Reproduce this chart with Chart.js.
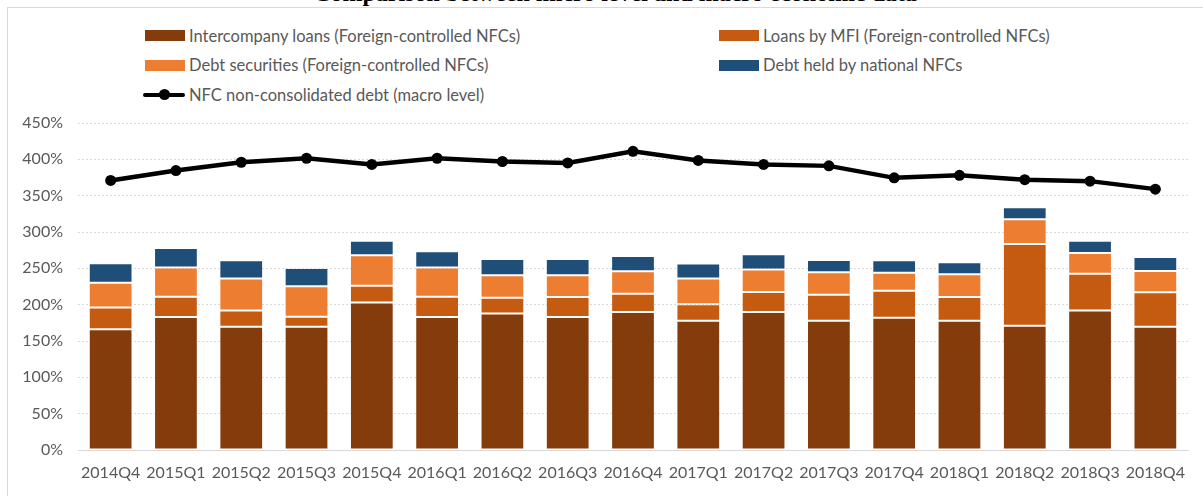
<!DOCTYPE html>
<html>
<head>
<meta charset="utf-8">
<script src="https://cdn.jsdelivr.net/npm/chart.js@4.4.1/dist/chart.umd.min.js"></script>
<style>
  html, body { margin: 0; padding: 0; background: #fff; }
  body { width: 1203px; height: 496px; position: relative; overflow: hidden; font-family: Lato, sans-serif; }
  #title { position: absolute; top: -18px; left: 0; width: 1230px; text-align: center;
           font: bold 24px "Liberation Serif", serif; line-height: 22px; color: #000; white-space: nowrap; }
  #frame { position: absolute; left: 7px; top: 7px; width: 1300px; height: 600px; border: 1px solid #d9d9d9; background: #fff; }
  #legend { position: absolute; left: 143px; top: 21px; display: grid; grid-template-columns: 574px auto;
            grid-auto-rows: 29.5px; font-size: 16.5px; color: #595959; }
  .item { display: flex; align-items: center; white-space: nowrap; }
  .box { width: 40px; height: 11px; margin-left: 2px; margin-right: 4px; }
  .lineKey { position: relative; width: 42px; height: 11px; margin-right: 4px; }
  .lineKey .bar { position: absolute; left: 0; right: 0; top: 4px; height: 4px; background: #000; border-radius: 2px; }
  .lineKey .dot { position: absolute; left: 16px; top: 0; width: 11px; height: 11px; border-radius: 50%; background: #000; }
  #wrap { position: absolute; left: 0; top: 0; width: 1203px; height: 496px; }
</style>
</head>
<body>
<div id="title">Comparison between micro level and macro economic data</div>
<div id="frame"></div>
<div id="legend"></div>
<div id="wrap"><canvas id="debtChart"></canvas></div>
<script>
const quarters = ['2014Q4', '2015Q1', '2015Q2', '2015Q3', '2015Q4', '2016Q1', '2016Q2', '2016Q3', '2016Q4',
                  '2017Q1', '2017Q2', '2017Q3', '2017Q4', '2018Q1', '2018Q2', '2018Q3', '2018Q4'];

// shares of GDP, in %
const intercompanyLoans = [166, 183, 169.5, 169.5, 203, 183, 188, 183, 190, 178, 190, 178, 182, 178, 171, 192, 169.5];
const mfiLoans          = [30, 28, 22.5, 14, 23, 28, 21.5, 27.5, 25, 22.5, 27.5, 35.5, 37, 32.5, 112.5, 50.5, 47.5];
const debtSecurities    = [34, 40, 44, 42, 42, 40, 31, 30, 31, 35.5, 31, 31, 25, 31.5, 34, 28.5, 29.5];
const nationalDebt      = [27, 27, 25, 25, 20, 22.5, 22.5, 22.5, 21, 20.5, 21, 17, 17, 16.5, 16.5, 17, 19];
const macroDebt         = [371, 384.5, 396, 401.5, 393, 401.5, 397, 395, 411, 398.5, 393, 391, 374.5, 378, 372, 370, 359];

const yTicks = [0, 50, 100, 150, 200, 250, 300, 350, 400, 450];

const barSeries = [
    { label: 'Intercompany loans (Foreign-controlled NFCs)', data: intercompanyLoans, color: '#843c0c' },
    { label: 'Loans by MFI (Foreign-controlled NFCs)', data: mfiLoans, color: '#c55a11' },
    { label: 'Debt securities (Foreign-controlled NFCs)', data: debtSecurities, color: '#ed7d31' },
    { label: 'Debt held by national NFCs', data: nationalDebt, color: '#1f4e79' }
];
const lineLabel = 'NFC non-consolidated debt (macro level)';

// legend (two columns like the original)
const legend = document.getElementById('legend');
barSeries.forEach(s => {
    const it = document.createElement('div');
    it.className = 'item';
    it.innerHTML = '<div class="box" style="background:' + s.color + '"></div><span>' + s.label + '</span>';
    legend.appendChild(it);
});
const li = document.createElement('div');
li.className = 'item';
li.innerHTML = '<div class="lineKey"><div class="bar"></div><div class="dot"></div></div><span>' + lineLabel + '</span>';
legend.appendChild(li);

const datasets = barSeries.map(s => ({
    type: 'bar',
    label: s.label,
    data: s.data,
    backgroundColor: s.color,
    borderColor: 'rgba(255,255,255,0.12)',
    borderWidth: 1,
    borderSkipped: false,
    stack: 'micro',
    order: 1,
    barPercentage: 0.67,
    categoryPercentage: 1
}));
datasets.push({
    type: 'line',
    label: lineLabel,
    data: macroDebt,
    borderColor: '#000',
    backgroundColor: '#000',
    borderWidth: 4.5,
    pointRadius: 5.5,
    pointHoverRadius: 5.5,
    pointBackgroundColor: '#000',
    pointBorderWidth: 0,
    tension: 0,
    fill: false,
    stack: 'macro',
    order: 0
});

const ctx = document.getElementById('debtChart').getContext('2d');
const debtChart = new Chart(ctx, {
    data: { labels: quarters, datasets: datasets },
    options: {
        responsive: true,
        maintainAspectRatio: false,
        animation: false,
        layout: { padding: { top: 123, right: 15, bottom: 0, left: 0 } },
        plugins: { legend: { display: false }, tooltip: { enabled: false } },
        scales: {
            x: {
                stacked: true,
                grid: { display: false, drawTicks: false },
                border: { display: true, color: '#d9d9d9', width: 1 },
                ticks: { color: '#595959', font: { family: 'Lato', size: 16 }, padding: 13, maxRotation: 0, autoSkip: false },
                afterFit: s => { s.height = 46; }
            },
            y: {
                stacked: true,
                min: 0,
                max: 450,
                afterBuildTicks: s => { s.ticks = yTicks.map(v => ({ value: v })); },
                grid: { color: '#d9d9d9', lineWidth: 1, drawTicks: false },
                border: { display: false, dash: [2, 2] },
                ticks: { color: '#595959', font: { family: 'Lato', size: 16 }, padding: 15,
                         callback: v => v + '%' },
                afterFit: s => { s.width = 78; }
            }
        }
    }
});
</script>
</body>
</html>
